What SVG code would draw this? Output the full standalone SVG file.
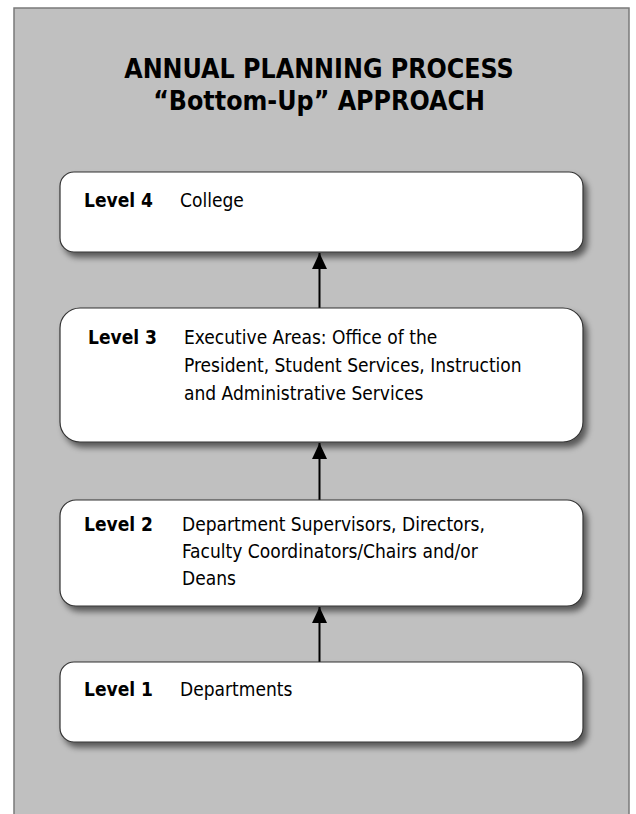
<svg xmlns="http://www.w3.org/2000/svg" width="636" height="814" viewBox="0 0 636 814">
<style>
.t{font-family:"DejaVu Sans Condensed","DejaVu Sans",sans-serif;fill:#000}
.title{font-size:26.5px;font-weight:bold;text-anchor:middle}
.lv{font-size:19px;font-weight:bold}
.tx{font-size:19px}
.box{fill:#fff;stroke:#333;stroke-width:1.2}
.conn{stroke:#000;stroke-width:2;fill:none}
</style>
<defs>
<filter id="sh" x="-10%" y="-20%" width="125%" height="150%">
<feGaussianBlur in="SourceAlpha" stdDeviation="3"/>
<feOffset dx="4" dy="5" result="b"/>
<feComponentTransfer><feFuncA type="linear" slope="0.55"/></feComponentTransfer>
<feMerge><feMergeNode/><feMergeNode in="SourceGraphic"/></feMerge>
</filter>
<marker id="ah" markerWidth="16" markerHeight="15" refX="16" refY="7.5" orient="auto" markerUnits="userSpaceOnUse" viewBox="0 0 16 15">
<path d="M0,0 L16,7.5 L0,15 Z" fill="#000"/>
</marker>
</defs>
<rect x="14" y="8" width="615" height="820" fill="#c0c0c0" stroke="#7a7a7a" stroke-width="1.5"/>
<g id="title">
<text class="t title" x="319" y="78">ANNUAL PLANNING PROCESS</text>
<text class="t title" x="319" y="110">“Bottom-Up” APPROACH</text>
</g>
<g id="connectors">
<line class="conn" x1="319.5" y1="308" x2="319.5" y2="253" marker-end="url(#ah)"/>
<line class="conn" x1="319.5" y1="500" x2="319.5" y2="443" marker-end="url(#ah)"/>
<line class="conn" x1="319.5" y1="662" x2="319.5" y2="607" marker-end="url(#ah)"/>
</g>
<g id="level4">
<rect class="box" x="60" y="172" width="523" height="80" rx="14" filter="url(#sh)"/>
<text class="t lv" x="84" y="207">Level 4</text>
<text class="t tx" x="180" y="207">College</text>
</g>
<g id="level3">
<rect class="box" x="60" y="308" width="523" height="134" rx="20" filter="url(#sh)"/>
<text class="t lv" x="88" y="344">Level 3</text>
<text class="t tx" x="184" y="344">Executive Areas: Office of the</text>
<text class="t tx" x="184" y="372">President, Student Services, Instruction</text>
<text class="t tx" x="184" y="400">and Administrative Services</text>
</g>
<g id="level2">
<rect class="box" x="60" y="500" width="523" height="106" rx="16" filter="url(#sh)"/>
<text class="t lv" x="84" y="531">Level 2</text>
<text class="t tx" x="182" y="531">Department Supervisors, Directors,</text>
<text class="t tx" x="182" y="558">Faculty Coordinators/Chairs and/or</text>
<text class="t tx" x="182" y="585">Deans</text>
</g>
<g id="level1">
<rect class="box" x="60" y="662" width="523" height="80" rx="14" filter="url(#sh)"/>
<text class="t lv" x="84" y="696">Level 1</text>
<text class="t tx" x="180" y="696">Departments</text>
</g>
</svg>
